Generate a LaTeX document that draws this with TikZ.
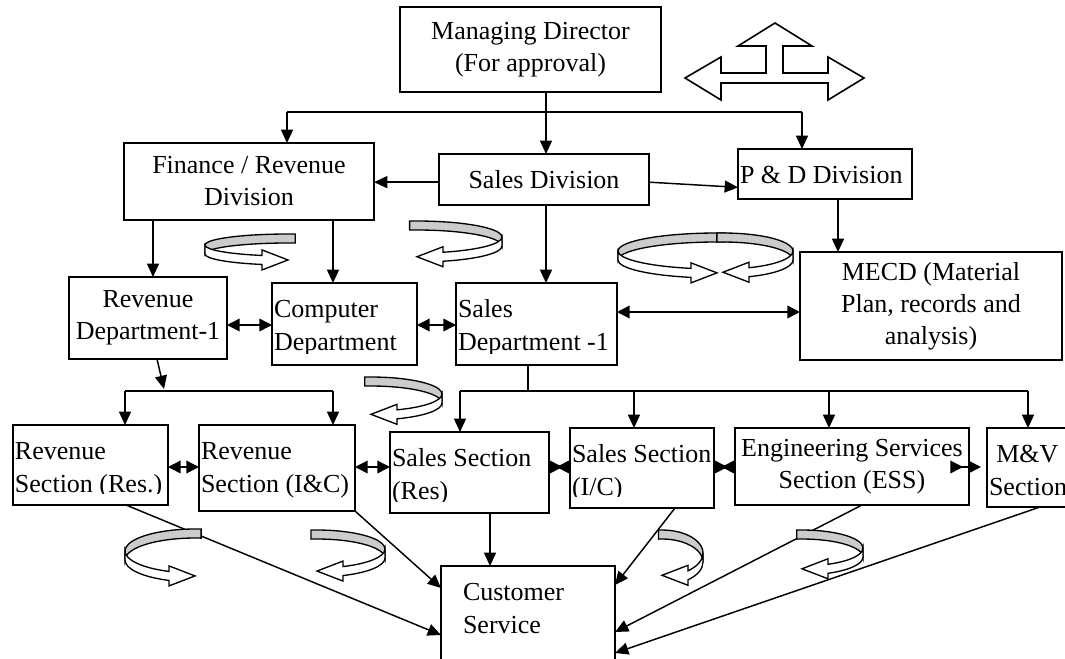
\documentclass[tikz,border=0pt]{standalone}
\usepackage{fontspec}
\setmainfont{Liberation Serif}
\usetikzlibrary{arrows.meta}

\definecolor{ribbon}{gray}{0.8}

% a turning block arrow: back face shaded, front face ends in a head
% #1 centre, #2 x radius, #3 y radius, #4 sense (1 turns right, -1 left)
\newcommand{\turnarrow}[4]{%
  \begin{scope}[shift={#1}, xscale=#4, yscale=-1, line width=1pt]
    \filldraw[fill=ribbon] (95:#2 and #3)
      arc[start angle=95, end angle=0, x radius=#2, y radius=#3] -- ++(0,-9)
      arc[start angle=0, end angle=95, x radius=#2, y radius=#3] -- cycle;
    \filldraw[fill=white] (#2,0)
      arc[start angle=0, end angle={-acos(26/#2)}, x radius=#2, y radius=#3]
      -- ++(0,5.5) -- ++(-26,-10) -- ++(26,-10) -- ++(0,5.5)
      arc[start angle={-acos(26/#2)}, end angle=0, x radius=#2, y radius=#3]
      -- cycle;
  \end{scope}}

\tikzset{
  unit/.style={draw, line width=1.5pt, inner sep=0pt, outer sep=0pt, align=center},
  % box given by its corners, in pixels
  area/.style n args={4}{minimum width={(#3-#1)*0.75pt},
    minimum height={(#4-#2)*0.75pt}, at={({(#1+#3)/2},{(#2+#4)/2})}},
  line/.style={draw=none, inner sep=0pt, minimum width=0pt, minimum height=0pt,
    anchor=base west},
  % two left set lines, cut off above the lower margin of the box
  lefttext/.style 2 args={path picture={
    \clip ([yshift=9pt]path picture bounding box.south west)
      rectangle (path picture bounding box.north east);
    \node[line] at ([xshift=1.5pt,yshift=-26pt]path picture bounding box.north west) {#1};
    \node[line] at ([xshift=1.5pt,yshift=-50.5pt]path picture bounding box.north west) {#2};}},
  wire/.style={line width=1.1pt},
  link/.style={wire, -{Triangle[length=10pt,width=9pt]}},
  link2/.style={wire, {Triangle[length=9.5pt,width=9.5pt]}-{Triangle[length=9.5pt,width=9.5pt]}},
  knot/.style={link2, shorten <=#1, shorten >=#1},
}

\begin{document}
\begin{tikzpicture}[x=0.75pt, y=-0.75pt, font=\fontsize{19.5}{24}\selectfont]
\useasboundingbox (0,0) rectangle (1065,658);

% divisions
\node[unit, area={400}{7}{661}{92}] (md) {Managing Director\\(For approval)};
\node[unit, area={124}{143}{374}{220}] (fin) {Finance / Revenue\\Division};
\node[unit, area={439}{154}{649}{205}] (sdiv) {Sales Division};
\node[unit, area={738}{149}{912}{199}, lefttext={P \& D Division}{}] (pd) {};

% departments
\node[unit, area={69}{277}{227}{359}] (rdept) {Revenue\\Department-1};
\node[unit, area={272}{283}{417}{365}, lefttext={Computer}{Department}] (comp) {};
\node[unit, area={456}{283}{617}{365}, lefttext={Sales}{Department -1}] (sdept) {};
\node[unit, area={800}{252}{1062}{360}] (mecd) {MECD (Material\\Plan, records and\\analysis)};

% sections
\node[unit, area={13}{425}{168}{505}, lefttext={Revenue}{Section (Res.)}] (rres) {};
\node[unit, area={199}{425}{355}{511}, lefttext={Revenue}{Section (I\&C)}] (ric) {};
\node[unit, area={390}{432}{549}{513}, lefttext={Sales Section}{(Res)}] (sres) {};
\node[unit, area={570}{428}{714}{508}, lefttext={Sales Section}{(I/C)}] (sic) {};
\node[unit, area={735}{428}{969}{505}] (ess) {Engineering Services\\Section (ESS)};
\node[unit, area={987}{428}{1080}{507}, lefttext={\hspace*{5.5pt}M\&V}{Section}] (mv) {};

\node[unit, area={441}{566}{615}{672},
  lefttext={\hspace*{15pt}Customer}{\hspace*{15pt}Service}] (cust) {};

% director down to the divisions
\coordinate (mdbus) at (546,112);
\coordinate (busl) at (287,112);
\coordinate (busr) at (802,112);
\draw[wire] (md.south -| mdbus) -- (mdbus);
\draw[wire] (busl) -- (busr);
\draw[link] (busl) -- (busl |- fin.north);
\draw[link] (mdbus) -- (mdbus |- sdiv.north);
\draw[link] (busr) -- (busr |- pd.north);
\draw[link] ([yshift=-2pt]sdiv.west) -- ([yshift=-2pt]fin.east |- sdiv.west);
\draw[link] ([yshift=-2pt]sdiv.east) -- ([yshift=-10pt]pd.west);

% divisions down to the departments
\coordinate (fr) at (153,0);
\coordinate (fc) at (333,0);
\coordinate (pm) at (838,0);
\draw[link] (fr |- fin.south) -- (fr |- rdept.north);
\draw[link] (fc |- fin.south) -- (fc |- comp.north);
\draw[link] (mdbus |- sdiv.south) -- (mdbus |- sdept.north);
\draw[link] (pm |- pd.south) -- (pm |- mecd.north);

\coordinate (dd) at (0,325);
\coordinate (dm) at (0,312);
\draw[link2] (rdept.east |- dd) -- (comp.west |- dd);
\draw[link2] (comp.east |- dd) -- (sdept.west |- dd);
\draw[link2] (sdept.east |- dm) -- (mecd.west |- dm);

% departments down to the sections
\coordinate (rt) at (164,389);
\coordinate (rl) at (125,391);
\coordinate (rr) at (333,391);
\draw[link] (157,0 |- rdept.south) -- (rt);
\draw[wire] (rl) -- (rr);
\draw[link] (rl) -- (rl |- rres.north);
\draw[link] (rr) -- (rr |- ric.north);

\coordinate (sf) at (528,391);
\coordinate (sl) at (460,391);
\coordinate (s2) at (634,391);
\coordinate (s3) at (829,391);
\coordinate (sr) at (1028,391);
\draw[wire] (sf |- sdept.south) -- (sf);
\draw[wire] (sl) -- (sr);
\draw[link] (sl) -- (sl |- sres.north);
\draw[link] (s2) -- (s2 |- sic.north);
\draw[link] (s3) -- (s3 |- ess.north);
\draw[link] (sr) -- (sr |- mv.north);

\coordinate (sa) at (0,467);
\draw[link2] (rres.east |- sa) -- (ric.west |- sa);
\draw[link2] (ric.east |- sa) -- (sres.west |- sa);
\draw[knot=5.6pt] (sres.east |- sa) -- (sic.west |- sa);
\draw[knot=5.6pt] (sic.east |- sa) -- (ess.west |- sa);
\draw[knot=4.5pt] (ess.east |- sa) -- (mv.west |- sa);

% sections to customer service
\draw[link] (126,0 |- rres.south) -- (cust.west |- 0,635);
\draw[link] (ric.south east) -- (cust.west |- 0,588);
\draw[link] (490,0 |- sres.south) -- (490,0 |- cust.north);
\draw[link] (675,0 |- sic.south) -- (cust.east |- 0,585);
\draw[link] (862,0 |- ess.south) -- (cust.east |- 0,632);
\draw[link] (1040,0 |- mv.south) -- (cust.east |- 0,653);

% turning arrows
\turnarrow{(288,245)}{83}{11}{-1}
\turnarrow{(417,237)}{85}{16}{1}
\turnarrow{(717,251)}{99}{18}{-1}
\turnarrow{(723,251)}{70}{18}{1}
\turnarrow{(371,394)}{71}{17}{1}
\turnarrow{(195,551)}{70}{22}{-1}
\turnarrow{(317,549)}{68}{19}{1}
\turnarrow{(662,553)}{41}{23}{1}
\turnarrow{(802,548)}{61}{18}{1}

% three way block arrow
\draw[line width=1.2pt, fill=white] (685,78) -- (721,57) -- (721,73) -- (766,73)
  -- (766,46) -- (738,46) -- (775,23) -- (812,46) -- (783,46) -- (783,73)
  -- (828,73) -- (828,57) -- (864,78) -- (828,100) -- (828,83) -- (721,83)
  -- (721,100) -- cycle;

\end{tikzpicture}
\end{document}
